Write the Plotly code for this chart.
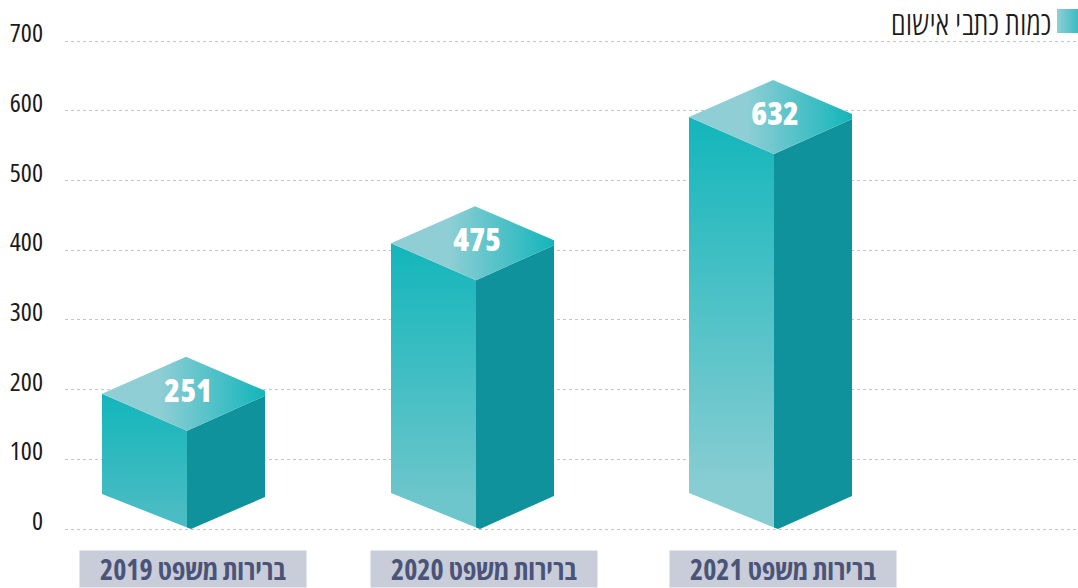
import plotly.graph_objects as go

# ---------- data ----------
categories = ["ברירות משפט 2019", "ברירות משפט 2020", "ברירות משפט 2021"]
values = [251, 475, 632]
drawn_levels = [247, 463, 644]      # back corner of each block, read against the y axis
y_ticks = [0, 100, 200, 300, 400, 500, 600, 700]
legend_label = "כמות כתבי אישום"

# ---------- page geometry ----------
W, H = 1078, 588
ZERO_PX, TOP_PX = 529, 41
PX_PER_UNIT = (ZERO_PX - TOP_PX) / 700
u = lambda px: px / PX_PER_UNIT
y_of_px = lambda py: (ZERO_PX - py) / PX_PER_UNIT

FRONT_X = [187, 476, 774]
LABEL_X = [193, 484, 783]
BOTTOM_END = ["#4abcc3", "#6dc6cb", "#88cdd2"]
BOTTOM_LEFT_PX = [494, 493, 493]
BOTTOM_RIGHT_PX = [497, 496, 496]
HALF_L, HALF_R = 85, 78

TEAL = "#12b6bb"
LIGHT = "#90ced5"
DARK = "#0f929b"
FONT = "Open Sans"

fig = go.Figure()


def poly(xs, ys, **kw):
    fig.add_trace(go.Scatter(x=xs + xs[:1], y=ys + ys[:1], mode="lines", fill="toself",
                             line=dict(width=0), hoverinfo="skip", showlegend=False, **kw))


for fx, level, end, bl, br in zip(FRONT_X, drawn_levels, BOTTOM_END, BOTTOM_LEFT_PX, BOTTOM_RIGHT_PX):
    left, right = fx - HALF_L, fx + HALF_R
    front_top = level - u(74)
    left_top = level - u(37)
    right_top = level - u(34)
    right_top2 = level - u(39)
    # front face
    poly([left, fx, fx, left],
         [left_top, front_top, y_of_px(527.5), y_of_px(bl)],
         fillgradient=dict(type="vertical", colorscale=[[0, end], [0.1, end], [1, TEAL]]))
    # right face
    poly([fx, right, right, fx + 4, fx],
         [front_top, right_top2, y_of_px(br), 0, y_of_px(527.5)],
         fillcolor=DARK)
    # top face
    poly([left, fx - 1, right, right, fx],
         [left_top, level, right_top, right_top2, front_top],
         fillgradient=dict(type="horizontal", colorscale=[[0, LIGHT], [0.35, LIGHT], [1, TEAL]]))

# legend swatch
poly([1057, 1078, 1078, 1057],
     [y_of_px(9), y_of_px(9), y_of_px(33), y_of_px(33)],
     fillgradient=dict(type="horizontal", colorscale=[[0, LIGHT], [1, "#3bbcc2"]]))

annotations = []
for fx, v, level in zip(FRONT_X, values, drawn_levels):
    annotations.append(dict(x=fx + 0.5, y=level - u(32.5), text=str(v), showarrow=False,
                            xanchor="center", yanchor="middle",
                            font=dict(family=FONT, size=32, color="white", weight=800)))
for lx, cat in zip(LABEL_X, categories):
    annotations.append(dict(x=lx, y=0, yref="paper", yanchor="bottom", xanchor="center",
                            text=f"{cat}\u200f", showarrow=False, width=226, height=36,
                            align="center", valign="middle", bgcolor="#c9ccd9", borderpad=0,
                            font=dict(family=FONT, size=28, color="#4a5478", weight=700)))
annotations.append(dict(x=971, y=y_of_px(22), xanchor="center", yanchor="middle", text=legend_label,
                        showarrow=False, font=dict(family=FONT, size=33, color="#1a1a1a", weight=300)))

fig.update_layout(
    width=W, height=H, margin=dict(l=0, r=0, t=0, b=0),
    paper_bgcolor="white", plot_bgcolor="white", showlegend=False,
    annotations=annotations,
    xaxis=dict(domain=[65 / W, 1], range=[65, W], visible=False, fixedrange=True),
    yaxis=dict(range=[y_of_px(H), y_of_px(0)], tickvals=y_ticks, ticktext=[str(t) for t in y_ticks],
               showgrid=True, gridcolor="#c4c4c8", griddash="dot", gridwidth=1,
               zeroline=False, showline=False, ticks="", ticklabelstandoff=21, ticklabelshift=-8,
               tickfont=dict(family=FONT, size=26, color="#1a1a1a"), automargin=False, fixedrange=True),
)

fig.write_html("out.html", config={"displayModeBar": False},
               post_script="document.body.style.margin='0';"
                           "var s=document.createElement('style');s.textContent='text{font-stretch:75%}';"
                           "document.head.appendChild(s);")
